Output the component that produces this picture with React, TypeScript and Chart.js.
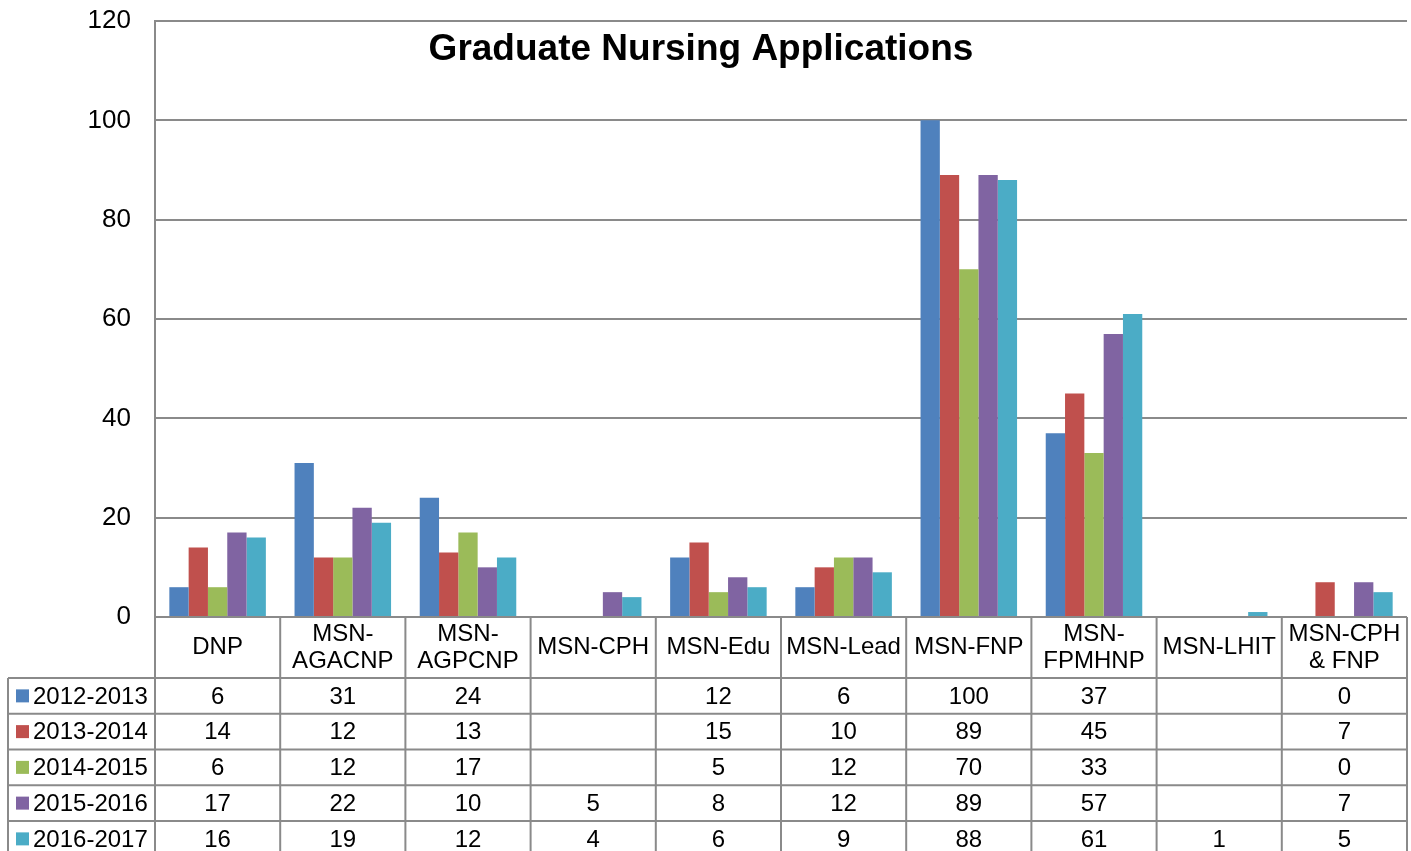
import React, { useEffect, useRef } from "react";
import { Chart, registerables } from "chart.js";
Chart.register(...registerables);

const chartTitle = "Graduate Nursing Applications";
const categories: string[][] = [
  ["DNP"],
  ["MSN-", "AGACNP"],
  ["MSN-", "AGPCNP"],
  ["MSN-CPH"],
  ["MSN-Edu"],
  ["MSN-Lead"],
  ["MSN-FNP"],
  ["MSN-", "FPMHNP"],
  ["MSN-LHIT"],
  ["MSN-CPH", "& FNP"],
];
const seriesNames = ["2012-2013", "2013-2014", "2014-2015", "2015-2016", "2016-2017"];
const seriesColors = ["#4F81BD", "#C0504D", "#9BBB59", "#8064A2", "#4BACC6"];
const values2012: (number | null)[] = [6, 31, 24, null, 12, 6, 100, 37, null, 0];
const values2013: (number | null)[] = [14, 12, 13, null, 15, 10, 89, 45, null, 7];
const values2014: (number | null)[] = [6, 12, 17, null, 5, 12, 70, 33, null, 0];
const values2015: (number | null)[] = [17, 22, 10, 5, 8, 12, 89, 57, null, 7];
const values2016: (number | null)[] = [16, 19, 12, 4, 6, 9, 88, 61, 1, 5];
const seriesValues = [values2012, values2013, values2014, values2015, values2016];
const yMin = 0;
const yMax = 120;
const yStep = 20;

const FONT = "'Liberation Sans', Arial, sans-serif";
const LINE = "#8a8a8a";

const tablePlugin = {
  id: "tablePlugin",
  afterDraw(chart: any) {
    const ctx: CanvasRenderingContext2D = chart.ctx;
    const area = chart.chartArea;
    const xs = chart.scales.x;
    const n = categories.length;
    const colW = (area.right - area.left) / n;
    const headerTop = area.bottom;
    const headerH = 61;
    const rowH = 35.75;
    const tableLeft = 8;
    const headerBottom = headerTop + headerH;
    const tableBottom = headerBottom + rowH * seriesNames.length;

    ctx.save();
    ctx.fillStyle = "#000";
    ctx.font = `bold 37px ${FONT}`;
    ctx.textAlign = "center";
    ctx.textBaseline = "middle";
    ctx.fillText(chartTitle, 701, 50);

    ctx.strokeStyle = LINE;
    ctx.lineWidth = 2;
    ctx.beginPath();
    ctx.moveTo(area.left, headerTop);
    ctx.lineTo(area.right, headerTop);
    for (let r = 0; r <= seriesNames.length; r++) {
      const y = headerBottom + r * rowH;
      ctx.moveTo(tableLeft, y);
      ctx.lineTo(area.right, y);
    }
    ctx.moveTo(tableLeft, headerBottom);
    ctx.lineTo(tableLeft, tableBottom);
    for (let i = 0; i <= n; i++) {
      const x = i < n ? xs.getPixelForValue(i) - colW / 2 : xs.getPixelForValue(n - 1) + colW / 2;
      ctx.moveTo(x, headerTop);
      ctx.lineTo(x, tableBottom);
    }
    ctx.stroke();

    ctx.fillStyle = "#000";
    ctx.font = `24px ${FONT}`;
    ctx.textAlign = "center";
    ctx.textBaseline = "middle";
    for (let i = 0; i < n; i++) {
      const cx = xs.getPixelForValue(i);
      const lines = categories[i];
      const lh = 27;
      const cy = headerTop + headerH / 2;
      lines.forEach((t, k) => {
        ctx.fillText(t, cx, cy + (k - (lines.length - 1) / 2) * lh);
      });
    }
    seriesNames.forEach((name, r) => {
      const cy = headerBottom + r * rowH + rowH / 2;
      ctx.fillStyle = seriesColors[r];
      ctx.fillRect(16, cy - 6.5, 13, 13);
      ctx.fillStyle = "#000";
      ctx.textAlign = "left";
      ctx.fillText(name, 33, cy + 1);
      ctx.textAlign = "center";
      seriesValues[r].forEach((v, i) => {
        if (v === null || v === undefined) return;
        ctx.fillText(String(v), xs.getPixelForValue(i), cy + 1);
      });
    });
    ctx.restore();
  },
};

export default function App() {
  const ref = useRef<HTMLCanvasElement | null>(null);
  useEffect(() => {
    document.body.style.margin = "0";
    const canvas = ref.current!;
    const chart = new Chart(canvas, {
      type: "bar",
      data: {
        labels: categories,
        datasets: seriesNames.map((name, r) => ({
          label: name,
          data: seriesValues[r],
          backgroundColor: seriesColors[r],
          borderWidth: 0,
          categoryPercentage: 0.771,
          barPercentage: 1,
        })),
      },
      options: {
        responsive: false,
        animation: false,
        devicePixelRatio: 1,
        layout: { padding: { left: 0, top: 21, right: 4, bottom: 234 } },
        plugins: {
          legend: { display: false },
          title: { display: false },
          tooltip: { enabled: false },
        },
        scales: {
          x: { display: false, offset: true },
          y: {
            min: yMin,
            max: yMax,
            ticks: {
              stepSize: yStep,
              color: "#000",
              font: { family: FONT, size: 26 },
              padding: 24,
            },
            grid: { color: LINE, lineWidth: 2, drawTicks: false },
            border: { display: true, color: LINE, width: 2 },
            afterFit: (scale: any) => {
              scale.width = 155;
              scale.paddingTop = 0;
              scale.paddingBottom = 0;
            },
          },
        },
      },
      plugins: [tablePlugin],
    });
    return () => chart.destroy();
  }, []);
  return (
    <div style={{ position: "absolute", left: 0, top: 0, width: 1411, height: 851 }}>
      <canvas ref={ref} width={1411} height={851} />
    </div>
  );
}
